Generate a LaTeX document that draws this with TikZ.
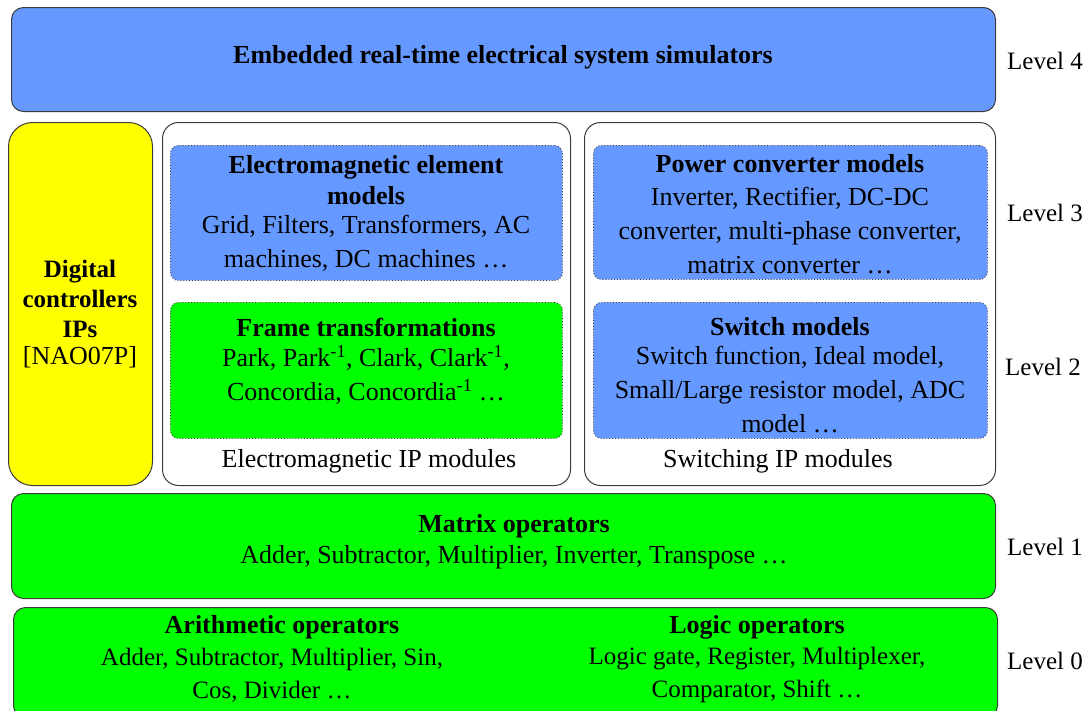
\documentclass[tikz,border=0pt]{standalone}
\usepackage{fontspec}
\setmainfont{Liberation Serif}
\definecolor{cblue}{RGB}{102,153,255}
\definecolor{cgreen}{RGB}{0,255,0}
\definecolor{cyel}{RGB}{255,255,0}
\definecolor{edge}{RGB}{60,60,60}
\begin{document}
\begin{tikzpicture}[x=1pt,y=-1pt,
  outer/.style={draw=edge, line width=1pt, rounded corners=12pt, anchor=north west, inner sep=0pt},
  inner/.style={draw=edge, line width=0.9pt, dotted, rounded corners=8pt, anchor=north west, inner sep=0pt},
  txt/.style={font=\fontsize{26}{34}\selectfont, align=center, inner sep=0pt},
  ttl/.style={font=\fontsize{26}{31}\selectfont\bfseries, align=center, inner sep=0pt},
  lvl/.style={font=\fontsize{25}{28}\selectfont, inner sep=0pt}]
\useasboundingbox (0,0) rectangle (1091,710);

% Level 4
\node[outer, fill=cblue, minimum width=984pt, minimum height=104pt] (l4box) at (11,7) {};
\node[ttl] (l4t) at (503,57) {Embedded real-time electrical system simulators};

% Yellow
\node[outer, fill=cyel, rounded corners=24pt, minimum width=144pt, minimum height=363pt] (ybox) at (8,122) {};
\node[ttl, font=\fontsize{25}{30}\selectfont\bfseries] (yt) at (80,299) {Digital\\controllers\\IPs};
\node[txt] (yr) at (80,357) {[NAO07P]};

% EM container
\node[outer, fill=white, rounded corners=16pt, minimum width=408pt, minimum height=363pt] (embox) at (162,122) {};
\node[inner, fill=cblue, minimum width=392pt, minimum height=135pt] (emel) at (170,145) {};
\node[ttl] (emelt) at (366,180) {Electromagnetic element\\models};
\node[txt] (emelb) at (366,243) {Grid, Filters, Transformers, AC\\machines, DC machines …};
\node[inner, fill=cgreen, minimum width=392pt, minimum height=136pt] (frame) at (170,302) {};
\node[ttl] (framet) at (366,327) {Frame transformations};
\node[txt] (frameb) at (366,375) {Park, Park\textsuperscript{-1}, Clark, Clark\textsuperscript{-1},\\Concordia, Concordia\textsuperscript{-1} …};
\node[txt] (emlab) at (369,461) {Electromagnetic IP modules};

% Switching container
\node[outer, fill=white, rounded corners=16pt, minimum width=411pt, minimum height=363pt] (swbox) at (584,122) {};
\node[inner, fill=cblue, minimum width=394pt, minimum height=134pt] (pc) at (593,145) {};
\node[ttl] (pct) at (790,164) {Power converter models};
\node[txt] (pcb) at (790,231) {Inverter, Rectifier, DC-DC\\converter, multi-phase converter,\\matrix converter …};
\node[inner, fill=cblue, minimum width=394pt, minimum height=136pt] (sm) at (593,302) {};
\node[ttl] (smt) at (790,327) {Switch models};
\node[txt] (smb) at (790,390) {Switch function, Ideal model,\\Small/Large resistor model, ADC\\model …};
\node[txt] (swlab) at (778,461) {Switching IP modules};

% Level 1
\node[outer, fill=cgreen, minimum width=984pt, minimum height=105pt] (l1box) at (11,493) {};
\node[ttl] (l1t) at (514,526) {Matrix operators};
\node[txt] (l1b) at (514,557) {Adder, Subtractor, Multiplier, Inverter, Transpose …};

% Level 0
\node[outer, fill=cgreen, minimum width=984pt, minimum height=110pt] (l0box) at (13,607) {};
\node[ttl] (art) at (282,627) {Arithmetic operators};
\node[txt, font=\fontsize{25}{33}\selectfont] (arb) at (272,675) {Adder, Subtractor, Multiplier, Sin,\\Cos, Divider …};
\node[ttl] (lot) at (757,627) {Logic operators};
\node[txt, font=\fontsize{25}{33}\selectfont] (lob) at (757,675) {Logic gate, Register, Multiplexer,\\Comparator, Shift …};

% Levels
\node[lvl] (lv4) at (1045,61) {Level 4};
\node[lvl] (lv3) at (1045,213) {Level 3};
\node[lvl] (lv2) at (1043,367) {Level 2};
\node[lvl] (lv1) at (1045,547) {Level 1};
\node[lvl] (lv0) at (1045,661) {Level 0};
\end{tikzpicture}
\end{document}
